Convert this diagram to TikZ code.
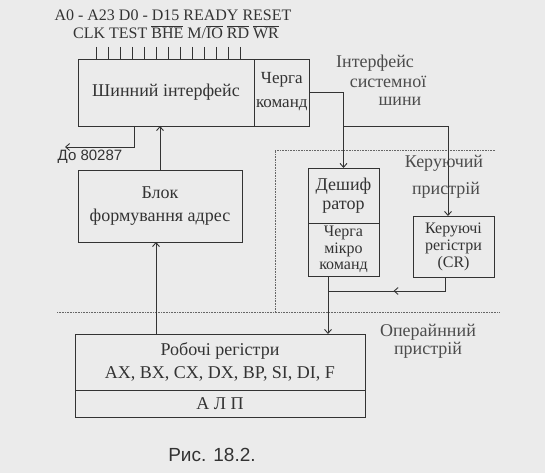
\documentclass[tikz,border=0pt]{standalone}
\usepackage{fontspec}
\setmainfont{Liberation Serif}
\newfontfamily\capfont{Liberation Sans}
\usetikzlibrary{positioning,arrows.meta,decorations.markings}
\tikzset{
  >={Straight Barb[length=4pt,width=7pt]},
  blk/.style={draw=black!80,line width=0.9pt,inner sep=2pt,outer sep=0pt,
    align=center,text=black!80,font=\fontsize{18}{23}\selectfont},
  tightblk/.style={blk,inner sep=0pt,font=\fontsize{16}{16.5}\selectfont},
  wire/.style={line width=0.9pt,draw=black!80},
  flow/.style={->,wire},
  midflow/.style={wire,postaction={decorate},
    decoration={markings,mark=at position 0.5 with {\arrow{>}}}},
  bound/.style={densely dotted,line width=0.6pt,draw=black!60},
  zonelbl/.style={font=\fontsize{18}{20}\selectfont,text=black!70,inner sep=0pt},
  pinlbl/.style={font=\fontsize{16}{18}\selectfont,text=black!80,inner sep=0pt},
  sanslbl/.style={font=\capfont\fontsize{15}{18}\selectfont,text=black!80,inner sep=0pt},
}

\begin{document}
\begin{tikzpicture}[x=1pt,y=-1pt]
  \fill[black!8] (0,0) rectangle (545,473);
  \useasboundingbox (0,0) rectangle (545,473);
  % bus interface and its pins
  \node[blk,minimum width=176,minimum height=67] (biu) at (166,92.5) {Шинний інтерфейс};
  \node[blk,minimum width=55,minimum height=67,right=0pt of biu,
    font=\fontsize{17}{24}\selectfont,text depth=6pt] (iq) {Черга\\команд};
  \foreach \i in {0,...,12}
    \draw[wire] (96+12*\i,47) -- (96+12*\i,59);
  \node[pinlbl] (pins1) at (173,15) {A0 - A23 D0 - D15 READY RESET};
  \node[pinlbl] (pins2) at (176,32) {CLK TEST $\overline{\mbox{BHE}}$ M/$\overline{\mbox{IO}}$ $\overline{\mbox{RD}}$ $\overline{\mbox{WR}}$};
  \node[zonelbl] (bus1) at (375,63) {Інтерфейс};
  \node[zonelbl] (bus2) at (388,82) {системної};
  \node[zonelbl] (bus3) at (400,101) {шини};
  % address unit
  \node[blk,minimum width=164,minimum height=72] (agu) at (160,206) {Блок\\формування адрес};
  % control unit
  \node[blk,minimum width=71,minimum height=55,font=\fontsize{18}{19}\selectfont] (dec) at (343.5,195.5) {Дешиф\\ратор};
  \node[tightblk,minimum width=71,minimum height=53,below=0pt of dec] (uq) {Черга\\мікро\\команд};
  \node[tightblk,minimum width=81,minimum height=61,font=\fontsize{16}{17}\selectfont] (cr) at (453.5,246.5) {Керуючі\\регістри\\(CR)};
  \node[zonelbl] (ctl1) at (444,163) {Керуючий};
  \node[zonelbl] (ctl2) at (446,190) {пристрій};
  % execution unit
  \node[blk,minimum width=290,minimum height=56] (regs) at (220,362) {Робочі регістри\\AX, BX, CX, DX, BP, SI, DI, F};
  \node[blk,minimum width=290,minimum height=27,below=0pt of regs] (alu) {А Л П};
  \node[zonelbl] (ex1) at (428,332) {Операйнний};
  \node[zonelbl] (ex2) at (428,350) {пристрій};
  % unit borders
  \draw[bound] (495,150) -- (275,150) -- (275,312);
  \draw[bound] (57,312) -- (500,312);
  % connections
  \coordinate (fork) at (dec.north |- biu.south);
  \coordinate (fpu) at (65,147);
  \coordinate (join) at (328,291);
  \draw[flow] (iq.east) -| (dec.north);
  \draw[flow] (fork) -| ([xshift=-5.5]cr.north);
  \draw[flow] ([xshift=-32]biu.south) |- (fpu);
  \node[sanslbl] (fpulbl) at (90,157) {До 80287};
  \draw[flow] (agu.north) -- (agu.north |- biu.south);
  \draw[flow] ([xshift=-64]regs.north) -- ([xshift=-64]regs.north |- agu.south);
  \draw[flow] ([xshift=-15.5]uq.south) -- ([xshift=-15.5]uq.south |- regs.north);
  \draw[midflow] ([xshift=-8.5]cr.south) |- (join);
  % caption
  \node[font=\capfont\fontsize{19}{22}\selectfont,text=black!80] (cap) at (212,455) {Рис. 18.2.};
\end{tikzpicture}
\end{document}
